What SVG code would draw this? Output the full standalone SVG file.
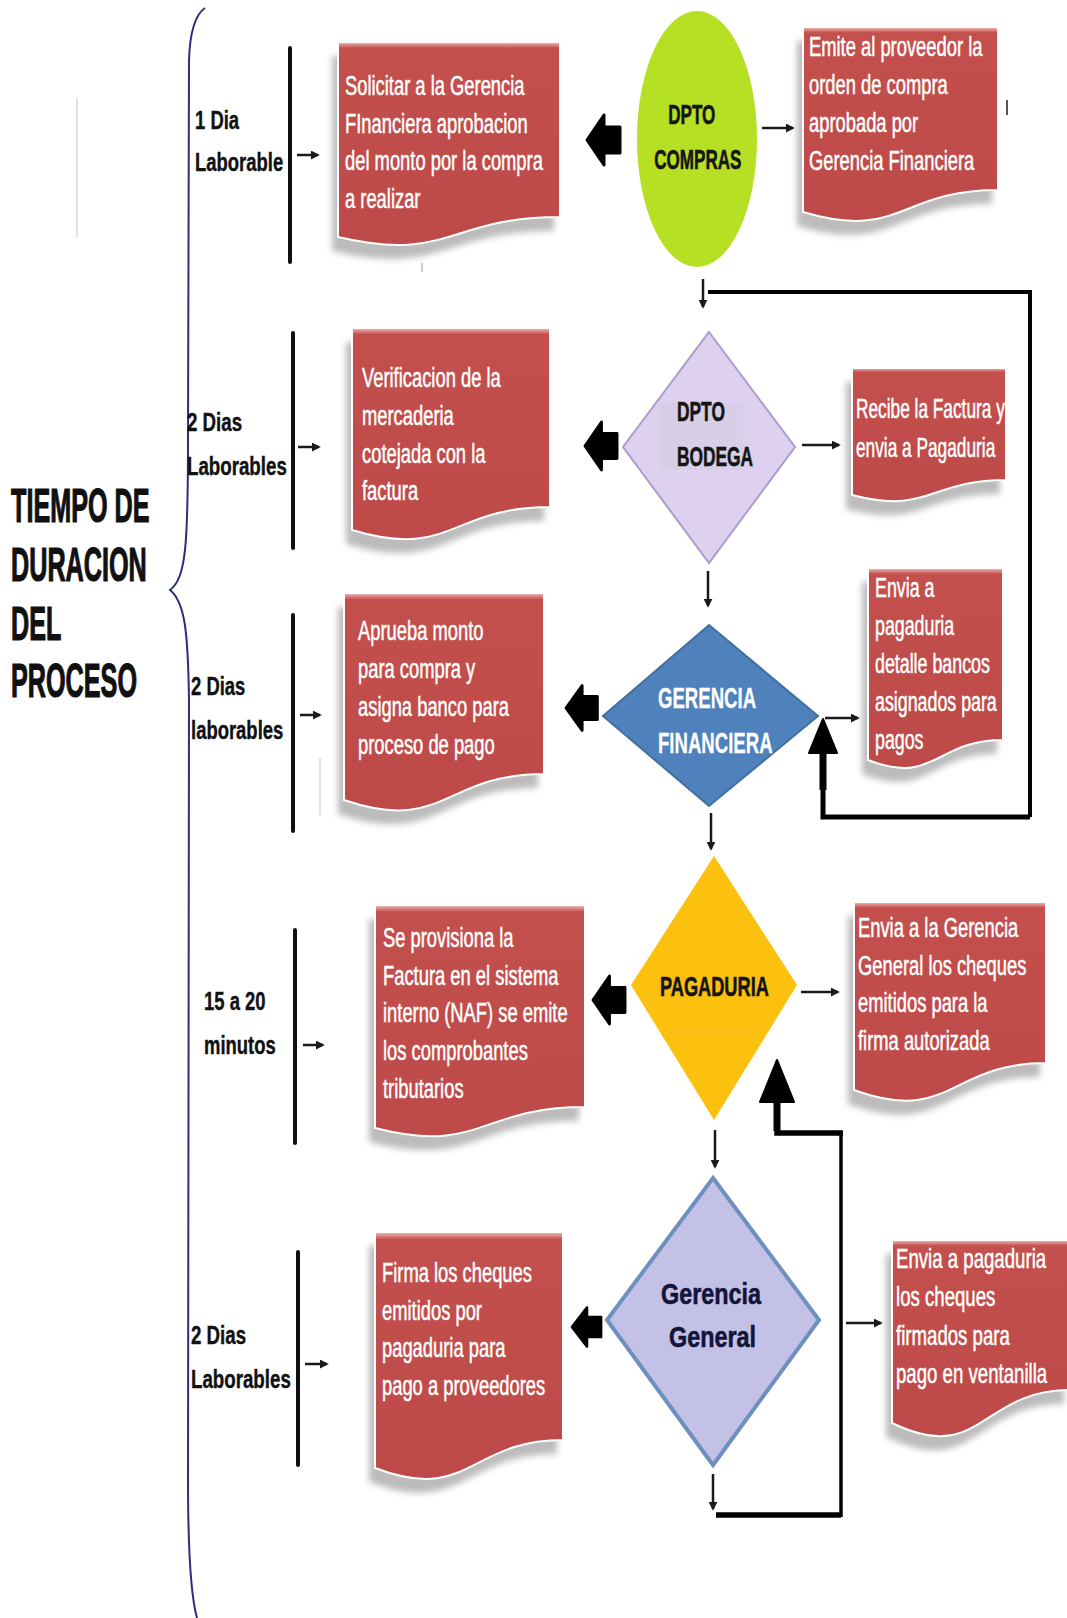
<svg xmlns="http://www.w3.org/2000/svg" width="1067" height="1618" viewBox="0 0 1067 1618">
<defs>
<style>
text{font-family:"Liberation Sans",Arial,sans-serif}
.ttl{font-size:48px;font-weight:bold;fill:#111;stroke:#111;stroke-width:1.2}
.lbl{font-size:26px;font-weight:bold;fill:#111;stroke:#111;stroke-width:0.4}
.bt{font-size:27px;fill:#fff;stroke:#fff;stroke-width:0.5}
.nt{font-size:28px;font-weight:bold;fill:#151515;stroke:#151515;stroke-width:0.6}
.doc{fill:url(#red);stroke:#fff;stroke-width:2}
.shd{fill:#bcbcbc;filter:url(#sh)}
.bar{stroke:#111;stroke-width:4;stroke-linecap:round}
.thin{stroke:#1a1a1a;stroke-width:2.5;fill:none;marker-end:url(#ah)}
.loop{stroke:#000;fill:none;stroke-linejoin:miter}
.blk{fill:#000;stroke:#000;stroke-width:3;stroke-linejoin:round}
.faint{stroke:#e2e2e2;stroke-width:2}
</style>
<linearGradient id="red" x1="0" y1="0" x2="0" y2="1">
<stop offset="0" stop-color="#efc0be"/>
<stop offset="0.03" stop-color="#c4504e"/>
<stop offset="1" stop-color="#bd4a48"/>
</linearGradient>
<filter id="sh" x="-10%" y="-10%" width="120%" height="130%"><feGaussianBlur stdDeviation="3"/></filter>
<marker id="ah" viewBox="0 0 10 10" refX="8" refY="5" markerWidth="9" markerHeight="9" markerUnits="userSpaceOnUse" orient="auto"><path d="M0,0 L10,5 L0,10 Z" fill="#1a1a1a"/></marker>
<path id="blk" d="M0,0 L17,-25 L17,-13 L33,-13 L33,13 L17,13 L17,25 Z"/>
<path id="dL1" d="M338,42 H560 V217 C449,217 449,263 338,237 Z"/>
<path id="dR1" d="M803,27 H998 V190 C900,190 900,241 803,212 Z"/>
<path id="dL2" d="M352,328 H550 V507 C451,507 451,560 352,530 Z"/>
<path id="dR2" d="M852,368 H1006 V480 C929,480 929,515 852,495 Z"/>
<path id="dL3" d="M344,593 H544 V774 C444,774 444,834 344,800 Z"/>
<path id="dR3" d="M868,568 H1003 V740 C935,740 935,786 868,760 Z"/>
<path id="dL4" d="M375,905 H585 V1107 C480,1107 480,1155 375,1128 Z"/>
<path id="dR4" d="M854,902 H1046 V1063 C950,1063 950,1125 854,1090 Z"/>
<path id="dL5" d="M375,1232 H563 V1440 C469,1440 469,1504 375,1468 Z"/>
<path id="dR5" d="M892,1240 H1070 V1390 C981,1390 981,1466 892,1423 Z"/>
</defs>
<rect width="1067" height="1618" fill="#fff"/>

<g id="title">
<text class="ttl" transform="translate(11,0) scale(0.525,1)"><tspan x="0" y="522">TIEMPO DE</tspan><tspan x="0" y="581">DURACION</tspan><tspan x="0" y="640">DEL</tspan><tspan x="0" y="697">PROCESO</tspan></text>
</g>

<g id="brace">
<path d="M205,8 C196,14 190,30 189,60 L188,440 C188,545 186,578 170,590 C185,602 188,632 189,700 L188,1480 C188,1560 192,1600 197,1618" fill="none" stroke="#2d2d7d" stroke-width="2"/>
</g>

<g id="artifacts">
<line class="faint" x1="77" y1="98" x2="77" y2="237"/>
<line class="faint" x1="320" y1="758" x2="320" y2="815"/>
<line x1="1007" y1="100" x2="1007" y2="115" stroke="#555" stroke-width="2"/>
<line x1="422" y1="263" x2="422" y2="272" stroke="#bbb" stroke-width="1.5"/>
</g>

<g id="label-row1">
<text class="lbl" transform="translate(195,0) scale(0.71,1)"><tspan x="0" y="129">1 Dia</tspan><tspan x="0" y="171">Laborable</tspan></text>
<line class="bar" x1="290" y1="48" x2="290" y2="262"/>
</g>
<g id="label-row2">
<text class="lbl" transform="translate(187,0) scale(0.72,1)"><tspan x="0" y="431">2 Dias</tspan><tspan x="0" y="475">Laborables</tspan></text>
<line class="bar" x1="293" y1="333" x2="293" y2="548"/>
</g>
<g id="label-row3">
<text class="lbl" transform="translate(191,0) scale(0.71,1)"><tspan x="0" y="695">2 Dias</tspan><tspan x="0" y="739">laborables</tspan></text>
<line class="bar" x1="293" y1="615" x2="293" y2="831"/>
</g>
<g id="label-row4">
<text class="lbl" transform="translate(204,0) scale(0.71,1)"><tspan x="0" y="1010">15 a 20</tspan><tspan x="0" y="1054">minutos</tspan></text>
<line class="bar" x1="295" y1="930" x2="295" y2="1143"/>
</g>
<g id="label-row5">
<text class="lbl" transform="translate(191,0) scale(0.72,1)"><tspan x="0" y="1344">2 Dias</tspan><tspan x="0" y="1388">Laborables</tspan></text>
<line class="bar" x1="298" y1="1252" x2="298" y2="1465"/>
</g>

<g id="box-solicitar">
<use href="#dL1" class="shd" transform="translate(-6,14)"/><use href="#dL1" class="doc"/>
<text class="bt" transform="translate(345,0) scale(0.68,1)"><tspan x="0" y="95">Solicitar a la Gerencia</tspan><tspan x="0" y="133">FInanciera aprobacion</tspan><tspan x="0" y="170">del monto por la compra</tspan><tspan x="0" y="208">a realizar</tspan></text>
</g>
<g id="box-emite">
<use href="#dR1" class="shd" transform="translate(-6,14)"/><use href="#dR1" class="doc"/>
<text class="bt" transform="translate(809,0) scale(0.68,1)"><tspan x="0" y="56">Emite al proveedor la</tspan><tspan x="0" y="94">orden de compra</tspan><tspan x="0" y="132">aprobada por</tspan><tspan x="0" y="170">Gerencia Financiera</tspan></text>
</g>
<g id="box-verificacion">
<use href="#dL2" class="shd" transform="translate(-6,14)"/><use href="#dL2" class="doc"/>
<text class="bt" transform="translate(362,0) scale(0.68,1)"><tspan x="0" y="387">Verificacion de la</tspan><tspan x="0" y="425">mercaderia</tspan><tspan x="0" y="463">cotejada con la</tspan><tspan x="0" y="500">factura</tspan></text>
</g>
<g id="box-recibe">
<use href="#dR2" class="shd" transform="translate(-6,14)"/><use href="#dR2" class="doc"/>
<text class="bt" transform="translate(856,0) scale(0.64,1)"><tspan x="0" y="418">Recibe la Factura y</tspan><tspan x="0" y="457">envia a Pagaduria</tspan></text>
</g>
<g id="box-aprueba">
<use href="#dL3" class="shd" transform="translate(-6,14)"/><use href="#dL3" class="doc"/>
<text class="bt" transform="translate(358,0) scale(0.68,1)"><tspan x="0" y="640">Aprueba monto</tspan><tspan x="0" y="678">para compra y</tspan><tspan x="0" y="716">asigna banco para</tspan><tspan x="0" y="754">proceso de pago</tspan></text>
</g>
<g id="box-envia-bancos">
<use href="#dR3" class="shd" transform="translate(-6,14)"/><use href="#dR3" class="doc"/>
<text class="bt" transform="translate(875,0) scale(0.66,1)"><tspan x="0" y="597">Envia a</tspan><tspan x="0" y="635">pagaduria</tspan><tspan x="0" y="673">detalle bancos</tspan><tspan x="0" y="711">asignados para</tspan><tspan x="0" y="749">pagos</tspan></text>
</g>
<g id="box-provisiona">
<use href="#dL4" class="shd" transform="translate(-6,14)"/><use href="#dL4" class="doc"/>
<text class="bt" transform="translate(383,0) scale(0.68,1)"><tspan x="0" y="947">Se provisiona la</tspan><tspan x="0" y="985">Factura en el sistema</tspan><tspan x="0" y="1022">interno (NAF) se emite</tspan><tspan x="0" y="1060">los comprobantes</tspan><tspan x="0" y="1098">tributarios</tspan></text>
</g>
<g id="box-envia-gg">
<use href="#dR4" class="shd" transform="translate(-6,14)"/><use href="#dR4" class="doc"/>
<text class="bt" transform="translate(858,0) scale(0.68,1)"><tspan x="0" y="937">Envia a la Gerencia</tspan><tspan x="0" y="975">General los cheques</tspan><tspan x="0" y="1012">emitidos para la</tspan><tspan x="0" y="1050">firma autorizada</tspan></text>
</g>
<g id="box-firma">
<use href="#dL5" class="shd" transform="translate(-6,14)"/><use href="#dL5" class="doc"/>
<text class="bt" transform="translate(382,0) scale(0.68,1)"><tspan x="0" y="1282">Firma los cheques</tspan><tspan x="0" y="1320">emitidos por</tspan><tspan x="0" y="1357">pagaduria para</tspan><tspan x="0" y="1395">pago a proveedores</tspan></text>
</g>
<g id="box-envia-ventanilla">
<use href="#dR5" class="shd" transform="translate(-6,14)"/><use href="#dR5" class="doc"/>
<text class="bt" transform="translate(896,0) scale(0.69,1)"><tspan x="0" y="1268">Envia a pagaduria</tspan><tspan x="0" y="1306">los cheques</tspan><tspan x="0" y="1345">firmados para</tspan><tspan x="0" y="1383">pago en ventanilla</tspan></text>
</g>

<g id="node-compras">
<ellipse cx="697" cy="139" rx="60" ry="128" fill="#b6e024"/>
<text class="nt" text-anchor="middle" transform="translate(696,0) scale(0.61,1)"><tspan x="-7" y="124">DPTO</tspan><tspan x="3" y="169">COMPRAS</tspan></text>
</g>
<g id="node-bodega">
<path d="M709,332 L795,447 L709,563 L623,447 Z" fill="#ddd1ef" stroke="#ab9cc9" stroke-width="2"/>
<rect x="660" y="403" width="83" height="67" fill="#d6cfe6"/>
<text class="nt" transform="translate(677,0) scale(0.62,1)"><tspan x="0" y="421">DPTO</tspan><tspan x="0" y="466">BODEGA</tspan></text>
</g>
<g id="node-gerencia-financiera">
<path d="M709,625 L818,716 L709,806 L603,716 Z" fill="#4f81bd" stroke="#41709f" stroke-width="2"/>
<text class="nt" style="font-size:30px;fill:#fff;stroke:#fff;stroke-width:0.3" transform="translate(658,0) scale(0.62,1)"><tspan x="0" y="708">GERENCIA</tspan><tspan x="0" y="753">FINANCIERA</tspan></text>
</g>
<g id="node-pagaduria">
<path d="M714,856 L797,985 L714,1120 L631,985 Z" fill="#fcc00f"/>
<line x1="671" y1="1032" x2="763" y2="1032" stroke="#c9a23a" stroke-width="1" stroke-dasharray="2,2" opacity="0.6"/>
<text class="nt" transform="translate(660,0) scale(0.65,1)"><tspan x="0" y="996">PAGADURIA</tspan></text>
</g>
<g id="node-gerencia-general">
<path d="M713,1178 L819,1320 L713,1465 L607,1320 Z" fill="#c4c1e6" stroke="#6f8fbf" stroke-width="4"/>
<text class="nt" style="font-size:30px;fill:#14143a;stroke:#14143a" text-anchor="middle" transform="translate(711,0) scale(0.78,1)"><tspan x="0" y="1304">Gerencia</tspan><tspan x="2" y="1347">General</tspan></text>
</g>

<g id="connectors">
<line class="thin" x1="297" y1="155" x2="318" y2="155"/>
<line class="thin" x1="298" y1="447" x2="319" y2="447"/>
<line class="thin" x1="300" y1="715" x2="320" y2="715"/>
<line class="thin" x1="303" y1="1045" x2="323" y2="1045"/>
<line class="thin" x1="305" y1="1364" x2="327" y2="1364"/>
<line class="thin" x1="762" y1="128" x2="793" y2="128"/>
<line class="thin" x1="802" y1="445" x2="839" y2="445"/>
<line class="thin" x1="825" y1="718" x2="858" y2="718"/>
<line class="thin" x1="801" y1="992" x2="838" y2="992"/>
<line class="thin" x1="846" y1="1323" x2="881" y2="1323"/>
<line class="thin" x1="703" y1="279" x2="703" y2="307"/>
<line class="thin" x1="708" y1="571" x2="708" y2="606"/>
<line class="thin" x1="711" y1="813" x2="711" y2="849"/>
<line class="thin" x1="715" y1="1130" x2="715" y2="1167"/>
<line class="thin" x1="713" y1="1474" x2="713" y2="1509"/>
<use href="#blk" class="blk" transform="translate(587,140)"/>
<use href="#blk" class="blk" transform="translate(585,446) scale(0.97,0.96)"/>
<use href="#blk" class="blk" transform="translate(566,708) scale(0.95,0.9)"/>
<use href="#blk" class="blk" transform="translate(593,1000) scale(0.97,0.96)"/>
<use href="#blk" class="blk" transform="translate(572,1327) scale(0.88,0.78)"/>
<polyline class="loop" stroke-width="4" points="708,292 1030,292 1030,817"/>
<polyline class="loop" stroke-width="5" points="1030,817 823,817 823,752"/>
<line x1="823" y1="752" x2="823" y2="790" stroke="#000" stroke-width="7"/>
<path d="M823,719 L837,753 L809,753 Z" fill="#000" stroke="#000" stroke-width="2" stroke-linejoin="round"/>
<polyline class="loop" stroke-width="5.5" points="716,1515 841,1515"/>
<polyline class="loop" stroke-width="3.5" points="841,1517 841,1131"/>
<polyline class="loop" stroke-width="5.5" points="843,1133 777,1133 777,1100"/>
<line x1="777" y1="1100" x2="777" y2="1131" stroke="#000" stroke-width="7"/>
<path d="M777,1060 L794,1102 L760,1102 Z" fill="#000" stroke="#000" stroke-width="2" stroke-linejoin="round"/>
</g>
</svg>
